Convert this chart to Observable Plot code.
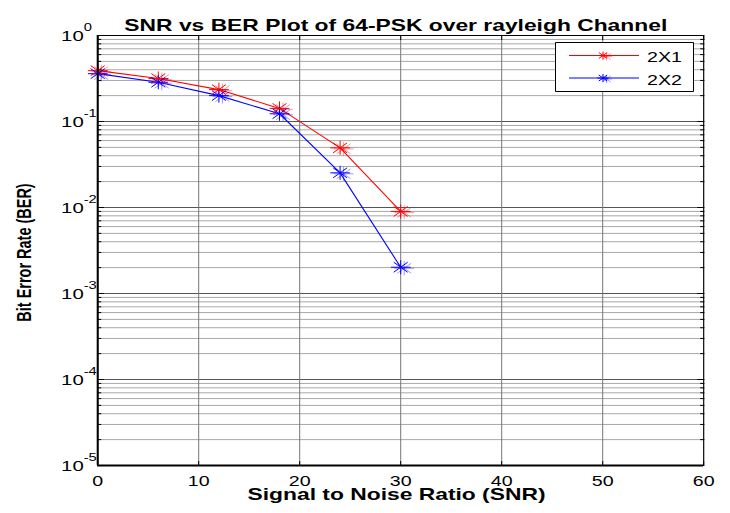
<!DOCTYPE html>
<html>
<head>
<meta charset="utf-8">
<script src="https://cdn.jsdelivr.net/npm/d3@7"></script>
<script src="https://cdn.jsdelivr.net/npm/@observablehq/plot@0.6"></script>
<style>
  html, body { margin: 0; padding: 0; background: #fff; }
  #chart { width: 730px; height: 513px; overflow: hidden; }
  #chart svg { display: block; }
  #chart svg * { vector-effect: non-scaling-stroke; }
</style>
</head>
<body>
<div id="chart"></div>
<script>
// SNR sweep (dB) and simulated bit error rates for 64-PSK over a Rayleigh channel
const snr = [0, 6, 12, 18, 24, 30];
const ber2x1 = [0.39, 0.316, 0.235, 0.142, 0.0494, 0.0090];
const ber2x2 = [0.36, 0.286, 0.200, 0.123, 0.0253, 0.00202];
const seriesNames = ["2X1", "2X2"];
const seriesColors = ["#ff0000", "#0000ff"];

// Axis ticks
const xTicks = [0, 10, 20, 30, 40, 50, 60];
const decadeExps = [-5, -4, -3, -2, -1, 0];
const decades = decadeExps.map(e => Math.pow(10, e));
const minorTicks = decadeExps.slice(0, -1).flatMap(e => [2, 3, 4, 5, 6, 7, 8, 9].map(k => k * Math.pow(10, e)));

const rows = [
  ...snr.map((s, i) => ({snr: s, ber: ber2x1[i], series: seriesNames[0]})),
  ...snr.map((s, i) => ({snr: s, ber: ber2x2[i], series: seriesNames[1]}))
];

// The figure is laid out on a narrower canvas and then widened horizontally,
// like a resized figure window export.
const OUT_W = 730, OUT_H = 513;
const W = 521;
const sx = OUT_W / W;

const font = "'Liberation Sans', Arial, Helvetica, sans-serif";
const blank = () => "";

const starMarks = (opts) => [
  Plot.dot(rows, {x: "snr", y: "ber", stroke: "series", symbol: "plus", r: 4.6, strokeWidth: 1, ...opts}),
  Plot.dot(rows, {x: "snr", y: "ber", stroke: "series", symbol: "times", r: 4.6, strokeWidth: 1, ...opts})
];

const mL = 97 / sx, mR = W - 703 / sx;

const chart = Plot.plot({
  width: W,
  height: OUT_H,
  marginLeft: mL,
  marginRight: mR,
  marginTop: 35,
  marginBottom: 48,
  style: {fontFamily: font, background: "#fff", color: "#000"},
  x: {domain: [0, 60]},
  y: {type: "log", domain: [1e-5, 1]},
  color: {domain: seriesNames, range: seriesColors},
  marks: [
    // grid
    Plot.ruleY(minorTicks, {stroke: "#a8a8a8", strokeWidth: 1}),
    Plot.ruleY(decades, {stroke: "#555", strokeWidth: 1}),
    Plot.ruleX(xTicks, {stroke: "#777", strokeWidth: 1}),
    // inward ticks on all four sides
    Plot.axisX({ticks: xTicks, anchor: "bottom", tickSize: -4, tickFormat: blank, label: null, stroke: "#000"}),
    Plot.axisX({ticks: xTicks, anchor: "top", tickSize: -4, tickFormat: blank, label: null, stroke: "#000"}),
    Plot.axisY({ticks: decades, anchor: "left", tickSize: -5, tickFormat: blank, label: null, stroke: "#000"}),
    Plot.axisY({ticks: minorTicks, anchor: "left", tickSize: -3, tickFormat: blank, label: null, stroke: "#000"}),
    Plot.axisY({ticks: decades, anchor: "right", tickSize: -5, tickFormat: blank, label: null, stroke: "#000"}),
    Plot.axisY({ticks: minorTicks, anchor: "right", tickSize: -3, tickFormat: blank, label: null, stroke: "#000"}),
    // tick labels
    Plot.axisX({ticks: xTicks, anchor: "bottom", tickSize: 0, tickPadding: 11, fontSize: 14, tickFormat: d => String(d), label: null}),
    Plot.axisY({ticks: decades, anchor: "left", tickSize: 0, tickPadding: 10, fontSize: 14.5, letterSpacing: 2.2, tickFormat: () => "10", dy: 1, label: null}),
    Plot.axisY({ticks: decades, anchor: "left", tickSize: 0, tickPadding: 10, fontSize: 10.5, textAnchor: "start", dy: -7.5, tickFormat: d => String(Math.round(Math.log10(d))), label: null}),
    // data
    Plot.line(rows, {x: "snr", y: "ber", z: "series", stroke: "series", strokeWidth: 1.1}),
    ...starMarks({strokeOpacity: 0.4, dx: 2.5, dy: 1}),
    ...starMarks({}),
    // axes box
    Plot.frame({stroke: "#000", strokeWidth: 1}),
    Plot.ruleX([0], {stroke: "#000", strokeWidth: 2}),
    Plot.ruleY([1e-5], {stroke: "#000", strokeWidth: 2}),
    // title and axis labels
    Plot.text(["SNR vs BER Plot of 64-PSK over rayleigh Channel"], {frameAnchor: "top", dy: -16, dx: -3.5, fontSize: 16.3, fontWeight: "bold", text: d => d}),
    Plot.text(["Signal to Noise Ratio (SNR)"], {frameAnchor: "bottom", dy: 34, dx: -3, fontSize: 16.3, fontWeight: "bold", text: d => d}),
    Plot.text(["Bit Error Rate (BER)"], {frameAnchor: "left", textAnchor: "middle", dx: 17 - mL, rotate: -90, fontSize: 14.5, fontWeight: "bold", text: d => d, dy: 2})
  ]
});

// legend box in the upper-right corner of the axes
const svg = d3.select(chart);
const lg = svg.append("g").attr("font-family", font);
lg.append("rect").attr("x", 555.5 / sx).attr("y", 42.5).attr("width", 138 / sx).attr("height", 49)
  .attr("fill", "#fff").attr("stroke", "#000").attr("stroke-width", 1);
const spokes = [[-4, 0, 4, 0], [0, -4, 0, 4], [-3, -3, 3, 3], [-3, 3, 3, -3]];
seriesNames.forEach((name, i) => {
  const y = 55.5 + i * 22.5;
  const c = seriesColors[i];
  lg.append("line").attr("x1", 569 / sx).attr("x2", 639 / sx).attr("y1", y).attr("y2", y)
    .attr("stroke", c).attr("stroke-width", 1);
  [[2.5, 1, 0.4], [0, 0, 1]].forEach(([ox, oy, op]) => {
    const m = lg.append("g").attr("transform", `translate(${603 / sx + ox},${y + oy})`)
      .attr("stroke", c).attr("stroke-opacity", op).attr("stroke-width", 1);
    spokes.forEach(([a, b, c2, d]) =>
      m.append("line").attr("x1", a).attr("y1", b).attr("x2", c2).attr("y2", d));
  });
  lg.append("text").attr("x", 647 / sx).attr("y", y + 2).attr("dy", "0.35em")
    .attr("text-anchor", "start").attr("font-size", 14).attr("fill", "#000").text(name);
});

// widen the canvas to the output size
chart.setAttribute("width", OUT_W);
chart.setAttribute("height", OUT_H);
chart.setAttribute("preserveAspectRatio", "none");
chart.style.width = OUT_W + "px";
chart.style.height = OUT_H + "px";
chart.style.maxWidth = "none";

document.getElementById("chart").appendChild(chart);
</script>
</body>
</html>
